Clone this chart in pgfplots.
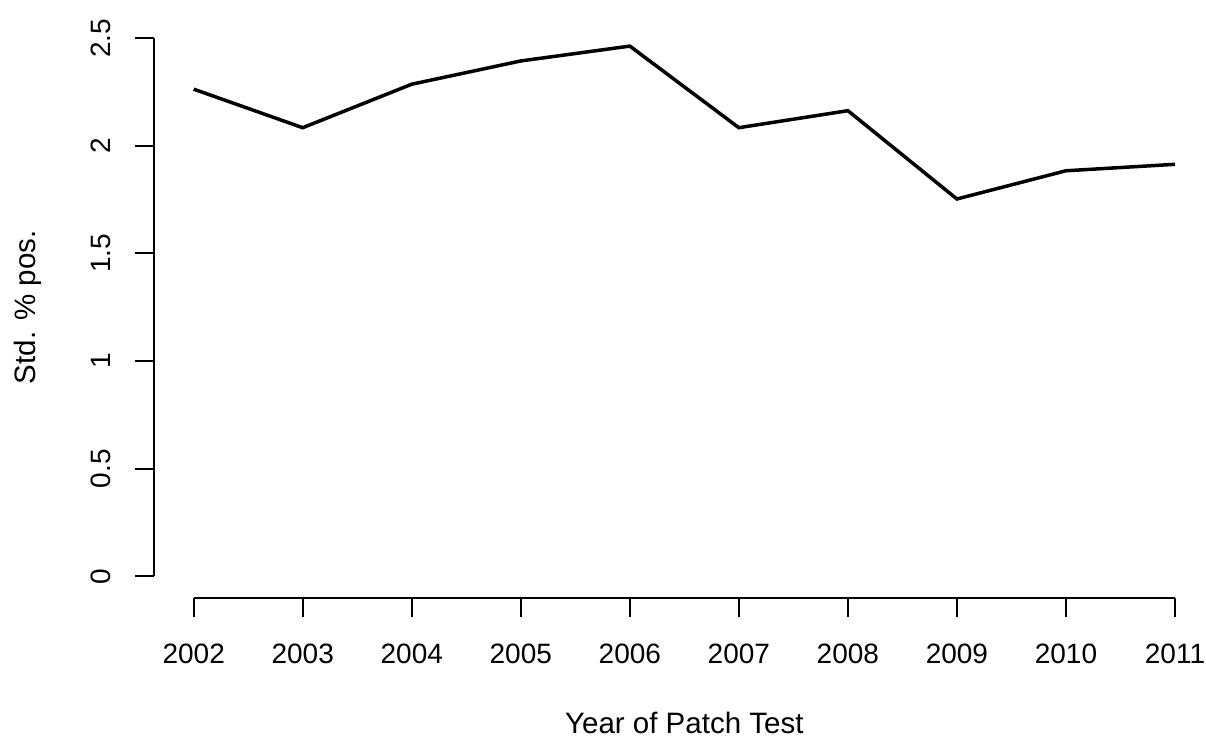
\documentclass[border=0pt]{standalone}
\usepackage{fontspec}
\setmainfont{Liberation Sans}
\usepackage{pgfplots}
\pgfplotsset{compat=1.18}
\begin{document}
\begin{tikzpicture}[font=\fontsize{28bp}{34bp}\selectfont]
\begin{axis}[
  scale only axis, width=1059.8bp, height=581.4bp,
  xmin=2001.64, xmax=2011.36, ymin=-0.1, ymax=2.6,
  axis x line*=bottom, axis y line*=left, axis line style={draw=none},
  xtick={2002,2003,2004,2005,2006,2007,2008,2009,2010,2011},
  ytick={0,0.5,1,1.5,2,2.5},
  /pgf/number format/assume math mode=true,
  /pgf/number format/1000 sep={},
  tick align=outside, major tick length=19bp,
  tick style={line width=2bp, black},
  xticklabel style={anchor=base},
  xticklabel shift=46bp,
  yticklabel style={rotate=90, anchor=base},
  yticklabel shift=24.5bp,
  xlabel={Year of Patch Test},
  ylabel={Std. \% pos.},
  label style={font=\fontsize{29.5bp}{35bp}\selectfont},
  xlabel style={at={(axis description cs:0.5,-0.2322)}, anchor=base},
  ylabel style={at={(axis description cs:-0.1118,0.5)}, anchor=base, rotate=0},
  clip=false,
]
\addplot[line width=3.5bp, black, line join=miter] coordinates {
(2002,2.263) (2003,2.084) (2004,2.286) (2005,2.394) (2006,2.463)
(2007,2.084) (2008,2.163) (2009,1.753) (2010,1.884) (2011,1.914)};
\draw[line width=2bp] (axis cs:2002,-0.1) -- (axis cs:2011,-0.1);
\draw[line width=2bp] (axis cs:2001.64,0) -- (axis cs:2001.64,2.5);
\coordinate (ll) at (rel axis cs:0,0);
\end{axis}
\pgfresetboundingbox
\path (ll) ++(-154.45bp,-140bp) rectangle ++(1206bp,738bp);
\end{tikzpicture}
\end{document}
